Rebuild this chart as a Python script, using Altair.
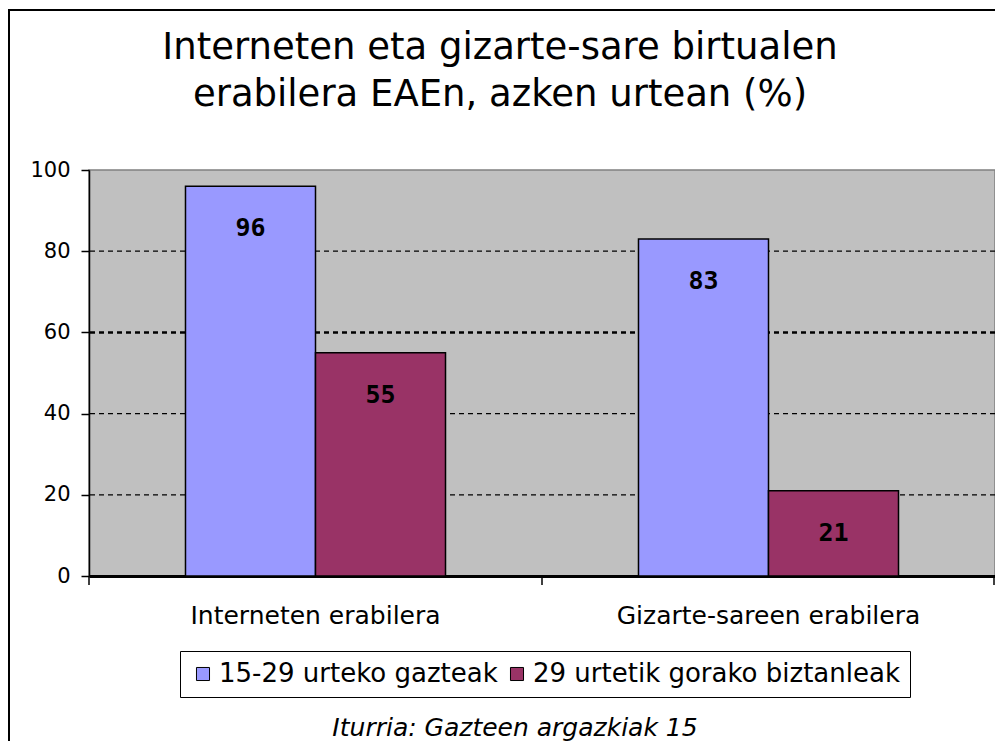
import altair as alt
import pandas as pd

categories = ["Interneten erabilera", "Gizarte-sareen erabilera"]
series = ["15-29 urteko gazteak", "29 urtetik gorako biztanleak"]
youth_values = [96, 83]
adult_values = [55, 21]
grid_values = [20, 40, 60, 80]
y_ticks = [0, 20, 40, 60, 80, 100]
colors = ["#9999FF", "#993366"]
title_lines = ["Interneten eta gizarte-sare birtualen", "erabilera EAEn, azken urtean (%)"]
source_text = "Iturria: Gazteen argazkiak 15"

rows = []
for i, c in enumerate(categories):
    rows.append({"cat": c, "serie": series[0], "value": youth_values[i]})
    rows.append({"cat": c, "serie": series[1], "value": adult_values[i]})
df = pd.DataFrame(rows)
grid_df = pd.DataFrame({"value": grid_values})

FONT = "DejaVu Sans"
W, H = 906, 406

x = alt.X("cat:N", sort=categories,
          scale=alt.Scale(paddingInner=0.426, paddingOuter=0.213),
          axis=alt.Axis(title=None, labelAngle=0, labelFontSize=25, labelFont=FONT,
                        labelColor="black", domainColor="black", domainWidth=3,
                        ticks=False, labelPadding=27, labelLimit=500))
xo = alt.XOffset("serie:N", sort=series, scale=alt.Scale(paddingInner=0, paddingOuter=0))
y = alt.Y("value:Q", scale=alt.Scale(domain=[0, 100]),
          axis=alt.Axis(values=y_ticks, title=None, grid=False, tickSize=8, tickColor="black",
                        tickWidth=1.5, domainColor="black", domainWidth=1.5, labelFontSize=21,
                        labelColor="black", labelPadding=11, labelFont=FONT))

grid = alt.Chart(grid_df).mark_rule(color="black", strokeDash=[5, 4]).encode(
    y=alt.Y("value:Q"),
    strokeWidth=alt.condition("datum.value == 60", alt.value(2.5), alt.value(1.2)),
)

bars = alt.Chart(df).mark_bar(stroke="black", strokeWidth=1.5).encode(
    x=x, xOffset=xo, y=y,
    color=alt.Color("serie:N", sort=series,
                    scale=alt.Scale(domain=series, range=colors),
                    legend=alt.Legend(title=None, orient="none", legendX=91, legendY=481,
                                      direction="horizontal", strokeColor="black",
                                      fillColor="white", padding=10, symbolType="square",
                                      symbolSize=170, symbolStrokeColor="black",
                                      symbolStrokeWidth=1, labelFontSize=26, labelFont=FONT,
                                      labelColor="black", columnPadding=6, labelOffset=3,
                                      labelLimit=600))
)

labels = alt.Chart(df).mark_text(dy=42, baseline="middle", font="DejaVu Sans Mono",
                                 fontWeight="bold", fontSize=25, color="black").encode(
    x=alt.X("cat:N", sort=categories), xOffset=alt.XOffset("serie:N", sort=series),
    y=alt.Y("value:Q"), text=alt.Text("value:Q")
)

title = alt.Chart(pd.DataFrame({"t": [title_lines]})).mark_text(
    font=FONT, fontSize=37, color="black", baseline="middle", align="center", lineHeight=47
).encode(x=alt.value(411), y=alt.value(-122), text="t")

source = alt.Chart(pd.DataFrame({"t": [source_text]})).mark_text(
    font=FONT, fontStyle="italic", fontSize=25, color="black", baseline="middle"
).encode(x=alt.value(426), y=alt.value(558), text="t:N")

border = alt.Chart(pd.DataFrame({"a": [0]})).mark_rect(
    fillOpacity=0, stroke="black", strokeWidth=2
).encode(x=alt.value(-80), x2=alt.value(1000), y=alt.value(-160), y2=alt.value(900))

tick_layers = [
    alt.Chart(pd.DataFrame({"a": [0]})).mark_rule(color="black", strokeWidth=1.5).encode(
        x=alt.value(px), y=alt.value(H), y2=alt.value(H + 9))
    for px in (0, W / 2, W - 1)
]

chart = alt.layer(grid, bars, labels, title, source, border, *tick_layers).properties(
    width=W, height=H,
    autosize=alt.AutoSizeParams(type="none"),
    padding={"left": 81, "top": 162, "right": 0, "bottom": 165},
).configure(background="white").configure_view(fill="#C0C0C0", stroke="#808080", strokeWidth=1.5)

chart.save("out.html", embed_options={"renderer": "svg", "actions": False})
